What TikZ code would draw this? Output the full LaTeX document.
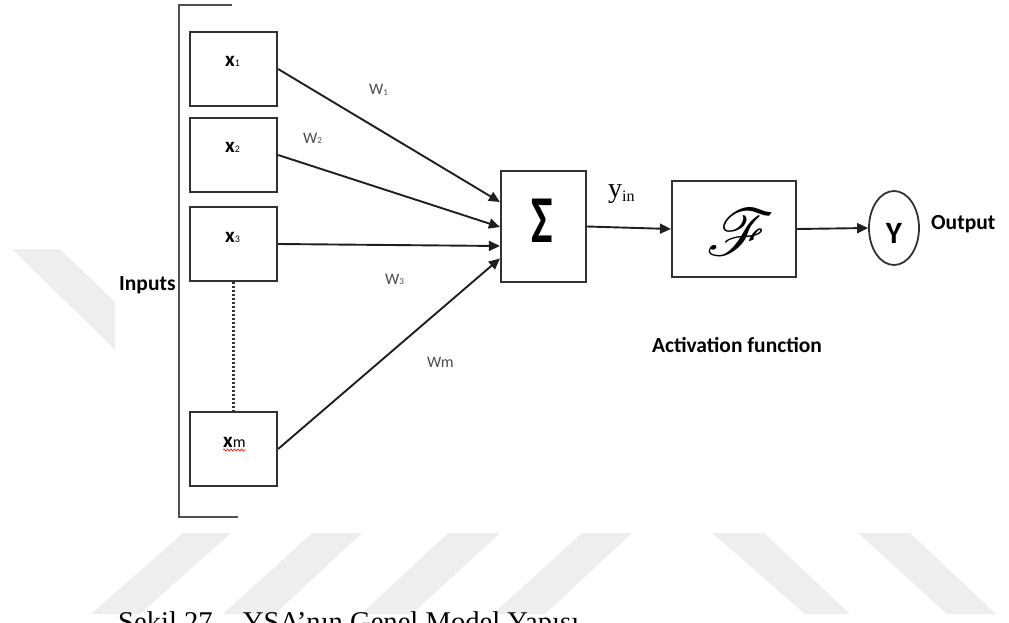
\documentclass[tikz,border=0pt]{standalone}
\usepackage{fontspec}
\setmainfont{Liberation Serif}
\newfontfamily\calfont{Carlito}
\usepackage{mathrsfs}
\usetikzlibrary{arrows.meta,shapes.geometric,decorations.pathmorphing}
\definecolor{wmgray}{RGB}{238,238,238}
\definecolor{linegray}{RGB}{50,50,50}
\definecolor{bracketgray}{RGB}{80,80,80}
\definecolor{wlabel}{RGB}{75,75,75}
\newcommand\fsz[1]{\fontsize{#1}{#1}\selectfont}

\begin{document}
\begin{tikzpicture}[x=1pt,y=-1pt,
  inbox/.style={draw=linegray,line width=2.2pt,minimum width=87pt,minimum height=74pt,inner sep=0pt},
  opbox/.style={draw=linegray,line width=2.2pt,inner sep=0pt},
  lab/.style={inner sep=0pt,anchor=base west},
  boldlab/.style={inner sep=0pt,font=\calfont\bfseries\fsz{21.5}},
  wlab/.style={inner sep=0pt,anchor=base west,text=wlabel,font=\calfont\fsz{16}},
  wire/.style={draw=black!88,line width=1.9pt,-{Triangle[length=11pt,width=10pt]}},
  wm/.style={fill=wmgray,draw=none}
]
\useasboundingbox (0,0) rectangle (1009,623);

% faint background stripes
\fill[wm] (12,249) -- (60,249) -- (115,302) -- (115,350) -- cycle;
\fill[wm] (183,533) -- (231,533) -- (140,614) -- (91,614) -- cycle;
\fill[wm] (312,533) -- (362,533) -- (275,614) -- (223,614) -- cycle;
\fill[wm] (448,533) -- (500,533) -- (412,614) -- (361,614) -- cycle;
\fill[wm] (582,533) -- (632,533) -- (545,614) -- (493,614) -- cycle;
\fill[wm] (712,533) -- (764,533) -- (850,614) -- (805,614) -- cycle;
\fill[wm] (858,533) -- (910,533) -- (996,614) -- (947,614) -- cycle;

% input bracket
\coordinate (bt) at (232,5);
\coordinate (bb) at (238,517);
\draw[draw=bracketgray,line width=2.2pt] (bt) -- (179,5) -- (179,517) -- (bb);

% input boxes
\node[inbox] (x1) at (233.5,69) {};
\node[inbox] (x2) at (233.5,155) {};
\node[inbox] (x3) at (233.5,244) {};
\node[inbox] (xm) at (233.5,449) {};
\draw[draw=linegray,line width=2.2pt,dash pattern=on 2.2pt off 1.8pt] (x3.south) -- (xm.north);

\node[lab] (lx1) at (225,67) {\calfont\bfseries\fsz{21}x{\mdseries\fsz{10}1}};
\node[lab] (lx2) at (225,153) {\calfont\bfseries\fsz{21}x{\mdseries\fsz{10}2}};
\node[lab] (lx3) at (225,242) {\calfont\bfseries\fsz{21}x{\mdseries\fsz{10}3}};
\node[lab] (lxm) at (223,447) {\calfont\bfseries\fsz{21}x{\mdseries\fsz{16}m}};
\draw[red,line width=0.6pt,decorate,decoration={snake,amplitude=1.1pt,segment length=3.5pt}]
  ([yshift=-3pt]lxm.base west) -- ([yshift=-3pt]lxm.base east);

\node[boldlab,anchor=base west] (inputs) at (119,290) {Inputs};

% summation and activation blocks
\node[opbox,minimum width=85pt,minimum height=111pt] (sum) at (543.5,226.5) {};
\node[inner sep=0pt] (sig) at (542.5,220.5) {\scalebox{0.68}[1]{\calfont\bfseries\fsz{67}Σ}};
\node[opbox,minimum width=124pt,minimum height=96pt] (act) at (734,229) {};
\node[inner sep=0pt] (fsym) at (741,232) {\scalebox{6.6}{$\mathscr{F}$}};
\node[draw=linegray,line width=1.8pt,ellipse,minimum width=50pt,minimum height=74pt,inner sep=0pt] (out) at (894,228) {};
\node[inner sep=0pt,anchor=base] (ylab) at (894,243) {\calfont\bfseries\fsz{31}Y};

% weighted inputs
\coordinate (in1) at ([yshift=24.5pt]sum.west);
\coordinate (in2) at ([yshift=-0.5pt]sum.west);
\coordinate (in3) at ([yshift=-19.5pt]sum.west);
\coordinate (in4) at ([yshift=-32pt]sum.west);
\draw[wire] (x1.east) -- (in1);
\draw[wire] (x2.east) -- (in2);
\draw[wire] (x3.east) -- (in3);
\draw[wire] (xm.east) -- (in4);

\node[wlab] (w1) at (369,95) {W\raisebox{-0.5pt}{\fsz{9}1}};
\node[wlab] (w2) at (303,143) {W\raisebox{-0.5pt}{\fsz{9}2}};
\node[wlab] (w3) at (385,284) {W\raisebox{-0.5pt}{\fsz{9}3}};
\node[wlab] (wm) at (427,367) {Wm};

% signal path
\draw[wire] (sum.east) -- (act.west);
\draw[wire] (act.east) -- (out.west);
\node[lab] (yin) at (608,197) {\fsz{28}y\raisebox{-4pt}{\fsz{16}in}};
\node[boldlab,anchor=base west] (outlab) at (931,229) {Output};
\node[boldlab,anchor=base] (actlab) at (737,352) {Activation function};

% caption, running off the lower edge
\node[lab] (cap) at (118,631) {\fsz{28.6}Şekil 27.\hspace{23pt}YSA’nın Genel Model Yapısı};
\end{tikzpicture}
\end{document}
